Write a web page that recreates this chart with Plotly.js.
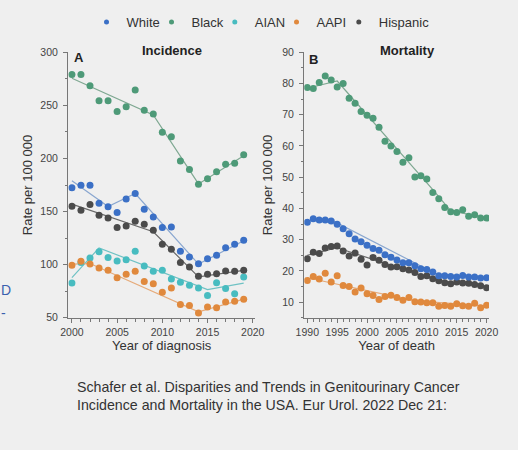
<!DOCTYPE html>
<html>
<head>
<meta charset="utf-8">
<script src="https://cdn.plot.ly/plotly-3.0.1.min.js"></script>
<style>
html,body{margin:0;padding:0;background:#efefef;}
#chart{width:518px;height:450px;}
</style>
</head>
<body>
<div id="chart"></div>
<script>
// ---------- Data ----------
var groups = ["White", "Black", "AIAN", "AAPI", "Hispanic"];
var colors = ["#3b70c6", "#4e9a78", "#48bcc0", "#e0893d", "#4b4b4b"];
var trendColors = ["#8aa7d0", "#7fa892", "#6fc2c4", "#e6ab7a", "#6a6a6a"];

// Panel A: Incidence by year of diagnosis
var yearsA = [2000,2001,2002,2003,2004,2005,2006,2007,2008,2009,2010,2011,2012,2013,2014,2015,2016,2017,2018,2019];
var incWhite    = [172.3,174.8,174.8,157.8,154.4,149.0,161.9,166.9,152.2,144.9,134.9,135.5,112.5,107.2,100.9,105.6,108.8,116.0,119.2,122.9];
var incBlack    = [279.2,279.2,268.5,254.4,254.4,244.3,248.7,264.4,245.3,241.8,224.8,220.4,197.5,189.6,175.8,180.8,187.4,194.6,195.6,203.4];
var incAIAN     = [82.6,102.0,106.2,112.2,106.6,103.4,104.7,112.5,98.7,93.7,94.6,86.4,83.3,80.5,77.9,71.0,83.0,77.6,72.6,88.3];
var incAAPI     = [99.3,103.1,100.6,96.8,94.6,87.7,90.9,93.7,84.2,82.0,73.9,77.9,62.5,61.6,54.4,60.0,59.4,64.7,65.4,67.3];
var incHispanic = [155.0,151.2,156.6,146.5,144.0,134.9,136.4,140.8,138.0,132.4,119.2,114.4,101.9,97.8,89.0,90.9,91.5,94.0,93.7,94.6];

// Panel A joinpoint trend lines
var trendYearsA_White = [2000,2004,2007,2014,2019];
var trendA_White      = [179.0,154.8,167.0,100.5,122.5];
var trendYearsA_Black = [2000,2009,2014,2019];
var trendA_Black      = [275.5,241.0,176.0,202.5];
var trendYearsA_AIAN  = [2000,2003,2015,2019];
var trendA_AIAN       = [87.7,115.7,76.4,82.6];
var trendYearsA_AAPI  = [2000,2002,2014,2019];
var trendA_AAPI       = [100.5,101.0,55.5,67.5];
var trendYearsA_Hisp  = [2000,2009,2014,2019];
var trendA_Hisp       = [157.0,131.0,88.4,94.5];

// Panel B: Mortality by year of death
var yearsB = [1990,1991,1992,1993,1994,1995,1996,1997,1998,1999,2000,2001,2002,2003,2004,2005,2006,2007,2008,2009,2010,2011,2012,2013,2014,2015,2016,2017,2018,2019,2020];
var morWhite    = [35.6,36.7,36.3,36.3,36.0,34.9,33.5,31.9,30.2,29.3,28.2,27.2,26.6,25.2,24.4,23.5,22.6,22.6,21.6,20.7,20.4,19.6,18.4,18.4,18.2,18.0,18.5,18.0,18.0,17.7,17.8];
var morBlack    = [78.7,78.4,80.3,82.4,81.1,78.9,80.0,75.3,73.7,71.0,69.8,68.9,66.0,61.5,60.0,58.2,54.8,56.2,50.1,50.5,49.4,45.1,43.1,40.3,38.9,38.7,39.6,37.5,38.0,36.9,36.9];
var morAAPI     = [16.9,18.2,17.4,19.2,16.4,18.4,15.3,15.0,13.2,14.5,12.7,12.1,10.8,11.8,12.2,11.5,10.6,11.5,10.1,10.0,9.8,9.8,8.7,8.9,8.7,9.5,8.8,8.7,9.6,8.2,9.0];
var morHispanic = [23.9,26.0,25.6,27.3,27.8,28.0,26.4,24.8,25.7,23.7,21.9,24.3,23.4,22.0,21.2,21.3,20.7,20.3,19.5,18.2,18.4,17.5,16.8,16.2,15.9,16.4,16.1,16.0,15.6,15.2,14.6];

// Panel B trend lines
var trendYearsB_White = [1990,1994,2012,2020];
var trendB_White      = [36.0,36.3,18.6,17.8];
var trendYearsB_Black = [1990,1995,2011,2014,2020];
var trendB_Black      = [78.5,80.8,46.0,39.2,37.0];
var trendYearsB_AAPI  = [1990,2008,2020];
var trendB_AAPI       = [17.8,10.4,8.8];
var trendYearsB_Hisp  = [1990,1995,2012,2020];
var trendB_Hisp       = [25.0,27.4,16.8,14.8];

// ---------- Build traces ----------
var traces = [];
function trend(x, y, idx, xa, ya) {
  traces.push({x: x, y: y, xaxis: xa, yaxis: ya, mode: 'lines', type: 'scatter',
    line: {color: trendColors[idx], width: 1.2}, showlegend: false, hoverinfo: 'skip'});
}
function pts(x, y, idx, xa, ya) {
  traces.push({x: x, y: y, xaxis: xa, yaxis: ya, mode: 'markers', type: 'scatter',
    name: groups[idx], marker: {color: colors[idx], size: 7}, showlegend: false});
}
trend(trendYearsA_White, trendA_White, 0, 'x', 'y');
trend(trendYearsA_Black, trendA_Black, 1, 'x', 'y');
trend(trendYearsA_AIAN, trendA_AIAN, 2, 'x', 'y');
trend(trendYearsA_AAPI, trendA_AAPI, 3, 'x', 'y');
trend(trendYearsA_Hisp, trendA_Hisp, 4, 'x', 'y');
trend(trendYearsB_White, trendB_White, 0, 'x2', 'y2');
trend(trendYearsB_Black, trendB_Black, 1, 'x2', 'y2');
trend(trendYearsB_AAPI, trendB_AAPI, 3, 'x2', 'y2');
trend(trendYearsB_Hisp, trendB_Hisp, 4, 'x2', 'y2');

pts(yearsA, incBlack, 1, 'x', 'y');
pts(yearsA, incAIAN, 2, 'x', 'y');
pts(yearsA, incAAPI, 3, 'x', 'y');
pts(yearsA, incHispanic, 4, 'x', 'y');
pts(yearsA, incWhite, 0, 'x', 'y');
pts(yearsB, morBlack, 1, 'x2', 'y2');
pts(yearsB, morAAPI, 3, 'x2', 'y2');
pts(yearsB, morHispanic, 4, 'x2', 'y2');
pts(yearsB, morWhite, 0, 'x2', 'y2');

// legend entries (per-entry widths tighten the spacing)
var legendWidths = [20, 18.3, 16.7, 17.3, 52];
for (var i = 0; i < groups.length; i++) {
  traces.push({x: [null], y: [null], xaxis: 'x', yaxis: 'y', mode: 'markers', type: 'scatter',
    name: groups[i], marker: {color: colors[i], size: 5}, showlegend: true, legendwidth: legendWidths[i]});
}

var FONT = 'Liberation Sans, Arial, sans-serif';
var axisCommon = {
  showgrid: false, zeroline: false, showline: true, linecolor: '#777', linewidth: 1.3,
  ticks: 'outside', ticklen: 4, tickwidth: 1, tickcolor: '#777', ticklabelstandoff: 3,
  tickfont: {family: FONT, size: 10.5, color: '#444'}
};
function ax(extra) { return Object.assign(JSON.parse(JSON.stringify(axisCommon)), extra); }

var layout = {
  width: 518, height: 450,
  paper_bgcolor: '#efefef', plot_bgcolor: '#efefef',
  margin: {l: 0, r: 0, t: 0, b: 0},
  font: {family: FONT, color: '#333'},
  showlegend: true,
  legend: {orientation: 'h', x: 86.5/518, xanchor: 'left', y: 1 - 22/450, yanchor: 'middle',
    font: {size: 13, color: '#333'}, bgcolor: 'rgba(0,0,0,0)', itemwidth: 30, tracegroupgap: 0},
  xaxis: ax({domain: [68.3/518, 255/518], range: [1999.6, 2020.25], tickvals: [2000,2005,2010,2015,2020],
    ticklabelstandoff: 0,
    minor: {dtick: 1, ticks: 'outside', ticklen: 2.5, tickcolor: '#777'}, anchor: 'y',
    title: {text: 'Year of diagnosis', standoff: 2, font: {family: FONT, size: 13, color: '#333'}}}),
  yaxis: ax({domain: [1 - 317.7/450, 1 - 52.3/450], range: [50, 300], tickvals: [50,100,150,200,250,300],
    minor: {dtick: 25, ticks: 'outside', ticklen: 2.5, tickcolor: '#777'}, anchor: 'x',
    title: {text: 'Rate per 100 000', standoff: 4, font: {family: FONT, size: 13, color: '#333'}}}),
  xaxis2: ax({domain: [304.3/518, 489/518], range: [1989.5, 2020.4], tickvals: [1990,1995,2000,2005,2010,2015,2020],
    ticklabelstandoff: 0,
    minor: {dtick: 1, ticks: 'outside', ticklen: 2.5, tickcolor: '#777'}, anchor: 'y2',
    title: {text: 'Year of death', standoff: 2, font: {family: FONT, size: 13, color: '#333'}}}),
  yaxis2: ax({domain: [1 - 317.7/450, 1 - 52.3/450], range: [5, 90], tickvals: [10,20,30,40,50,60,70,80,90],
    minor: {dtick: 5, ticks: 'outside', ticklen: 2.5, tickcolor: '#777'}, anchor: 'x2',
    title: {text: 'Rate per 100 000', standoff: 6, font: {family: FONT, size: 13, color: '#333'}}}),
  annotations: [
    {text: '<b>Incidence</b>', xref: 'paper', yref: 'paper', x: 171.7/518, y: 1 - 50.5/450,
      xanchor: 'center', yanchor: 'middle', showarrow: false, font: {size: 13, color: '#222'}},
    {text: '<b>Mortality</b>', xref: 'paper', yref: 'paper', x: 407/518, y: 1 - 50.5/450,
      xanchor: 'center', yanchor: 'middle', showarrow: false, font: {size: 13, color: '#222'}},
    {text: '<b>A</b>', xref: 'paper', yref: 'paper', x: 72/518, y: 1 - 58/450,
      xanchor: 'left', yanchor: 'middle', showarrow: false, font: {size: 13, color: '#222'}},
    {text: '<b>B</b>', xref: 'paper', yref: 'paper', x: 307/518, y: 1 - 59/450,
      xanchor: 'left', yanchor: 'middle', showarrow: false, font: {size: 13, color: '#222'}},
    {text: 'Schafer et al. Disparities and Trends in Genitourinary Cancer<br>Incidence and Mortality in the USA. Eur Urol. 2022 Dec 21:',
      xref: 'paper', yref: 'paper', x: 75/518, y: 1 - 396/450, xanchor: 'left', yanchor: 'middle', align: 'left',
      showarrow: false, font: {family: FONT, size: 14.2, color: '#333'}},
    {text: 'D', xref: 'paper', yref: 'paper', x: 0, y: 1 - 290/450, xanchor: 'left', yanchor: 'middle',
      showarrow: false, borderpad: 0, font: {size: 14, color: '#3a5fae'}},
    {text: '-', xref: 'paper', yref: 'paper', x: 0, y: 1 - 313/450, xanchor: 'left', yanchor: 'middle',
      showarrow: false, borderpad: 0, font: {size: 14, color: '#3a5fae'}}
  ]
};

Plotly.newPlot('chart', traces, layout, {displayModeBar: false, staticPlot: true});
</script>
</body>
</html>
